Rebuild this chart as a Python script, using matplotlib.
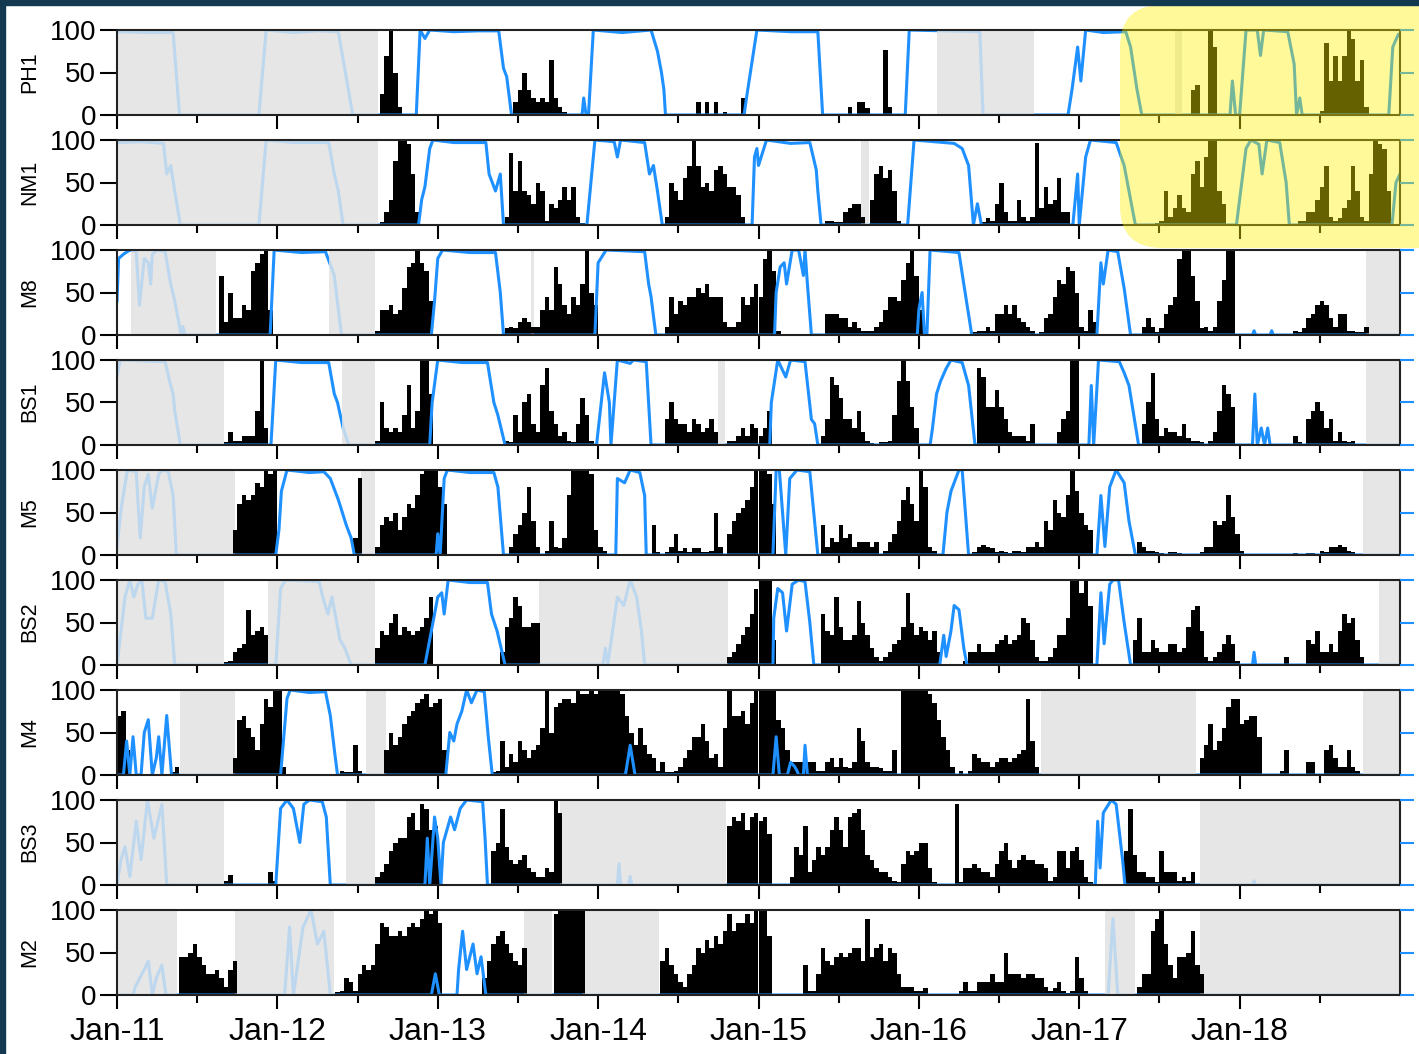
import numpy as np
import matplotlib
matplotlib.use('Agg')
import matplotlib.pyplot as plt
from matplotlib.patches import Rectangle, FancyBboxPatch
from matplotlib.path import Path

plt.rcParams['font.family'] = ['Liberation Sans', 'DejaVu Sans']

SITES = ['PH1', 'NM1', 'M8', 'BS1', 'M5', 'BS2', 'M4', 'BS3', 'M2']
YEARS = [2011, 2012, 2013, 2014, 2015, 2016, 2017, 2018]
YEAR_LABELS = ['Jan-11', 'Jan-12', 'Jan-13', 'Jan-14', 'Jan-15', 'Jan-16', 'Jan-17', 'Jan-18']
BINS_PER_YEAR = 36   # detection percentage in ~10-day bins

# gaps with no recorder data (decimal years)
PH1_GAPS = [(2011.0, 2012.63), (2016.11, 2016.72), (2017.60, 2017.64)]
NM1_GAPS = [(2011.0, 2012.626), (2015.64, 2015.69)]
M8_GAPS = [(2011.085, 2011.62), (2012.32, 2012.61), (2013.58, 2013.60), (2018.79, 2019.0)]
BS1_GAPS = [(2011.0, 2011.67), (2012.40, 2012.61), (2014.75, 2014.79), (2018.79, 2019.0)]
M5_GAPS = [(2011.0, 2011.735), (2012.52, 2012.61), (2018.77, 2019.0)]
BS2_GAPS = [(2011.0, 2011.67), (2011.94, 2012.61), (2013.63, 2014.81), (2018.87, 2019.0)]
M4_GAPS = [(2011.39, 2011.735), (2012.55, 2012.68), (2016.76, 2017.73), (2018.77, 2019.0)]
BS3_GAPS = [(2011.0, 2011.67), (2012.43, 2012.61), (2013.76, 2014.80), (2017.75, 2019.0)]
M2_GAPS = [(2011.0, 2011.375), (2011.735, 2012.355), (2013.54, 2013.71), (2013.90, 2014.38),
           (2017.16, 2017.35), (2017.75, 2019.0)]

# sea ice concentration (%), (decimal year, value)
PH1_ICE = [(2011.0, 98), (2011.2, 97), (2011.35, 97), (2011.39, 0), (2011.885, 0), (2011.93, 100),
           (2012.1, 97), (2012.25, 99), (2012.38, 98), (2012.47, 0), (2012.866, 0), (2012.89, 100),
           (2012.92, 90), (2012.95, 100), (2013.1, 98), (2013.25, 99), (2013.38, 99), (2013.41, 55),
           (2013.43, 45), (2013.46, 0), (2013.90, 0), (2013.91, 20), (2013.925, 0), (2013.94, 0),
           (2013.97, 100), (2014.15, 97), (2014.33, 100), (2014.37, 75), (2014.395, 50), (2014.41, 30),
           (2014.42, 0), (2014.91, 0), (2014.925, 20), (2014.99, 100), (2015.2, 98), (2015.37, 98),
           (2015.40, 0), (2015.915, 0), (2015.94, 100), (2016.38, 98), (2016.40, 0), (2016.93, 0),
           (2016.955, 30), (2016.99, 80), (2017.01, 40), (2017.04, 100), (2017.15, 97), (2017.29, 98),
           (2017.32, 80), (2017.36, 30), (2017.39, 0), (2017.94, 0), (2017.955, 40), (2017.975, 0),
           (2018.0, 0), (2018.04, 100), (2018.11, 100), (2018.13, 70), (2018.15, 100), (2018.30, 98),
           (2018.34, 60), (2018.355, 0), (2018.375, 20), (2018.39, 0), (2018.93, 0), (2018.955, 80),
           (2018.99, 95), (2019.0, 95)]
NM1_ICE = [(2011.0, 97), (2011.15, 98), (2011.29, 96), (2011.31, 60), (2011.335, 70), (2011.36, 40),
           (2011.395, 0), (2011.885, 0), (2011.93, 100), (2012.1, 97), (2012.32, 97), (2012.355, 60),
           (2012.38, 40), (2012.41, 0), (2012.88, 0), (2012.9, 30), (2012.92, 45), (2012.95, 90),
           (2012.97, 100), (2013.1, 97), (2013.30, 97), (2013.32, 60), (2013.36, 40), (2013.39, 60),
           (2013.41, 0), (2013.93, 0), (2013.95, 40), (2013.98, 100), (2014.1, 98), (2014.12, 80),
           (2014.14, 100), (2014.29, 97), (2014.32, 60), (2014.345, 70), (2014.37, 40), (2014.40, 0),
           (2014.96, 0), (2014.975, 80), (2014.99, 90), (2015.0, 70), (2015.05, 100), (2015.2, 96),
           (2015.32, 97), (2015.36, 65), (2015.37, 40), (2015.39, 0), (2015.93, 0), (2015.97, 100),
           (2016.22, 96), (2016.27, 90), (2016.31, 70), (2016.34, 0), (2016.365, 25), (2016.39, 0),
           (2016.96, 0), (2016.99, 60), (2017.0, 0), (2017.04, 80), (2017.07, 100), (2017.23, 97),
           (2017.28, 70), (2017.31, 40), (2017.35, 0), (2017.98, 0), (2018.04, 90), (2018.07, 100),
           (2018.12, 95), (2018.14, 60), (2018.17, 100), (2018.25, 97), (2018.29, 50), (2018.31, 0),
           (2018.95, 0), (2018.975, 50), (2019.0, 60)]
M8_ICE = [(2011.0, 40), (2011.01, 90), (2011.04, 95), (2011.08, 100), (2011.12, 98), (2011.14, 35),
          (2011.17, 90), (2011.195, 85), (2011.21, 60), (2011.22, 95), (2011.25, 100), (2011.30, 98),
          (2011.335, 60), (2011.36, 40), (2011.385, 15), (2011.40, 0), (2011.41, 10), (2011.425, 0),
          (2011.955, 0), (2011.98, 100), (2012.15, 97), (2012.30, 98), (2012.355, 70), (2012.38, 30),
          (2012.40, 0), (2012.96, 0), (2012.98, 40), (2013.0, 90), (2013.03, 100), (2013.2, 97),
          (2013.36, 97), (2013.39, 50), (2013.41, 0), (2013.98, 0), (2014.0, 85), (2014.05, 100),
          (2014.29, 98), (2014.315, 60), (2014.33, 45), (2014.36, 0), (2015.10, 0), (2015.11, 50),
          (2015.135, 80), (2015.16, 85), (2015.175, 60), (2015.21, 100), (2015.25, 100), (2015.28, 70),
          (2015.29, 100), (2015.305, 60), (2015.33, 0), (2015.99, 0), (2016.0, 30), (2016.02, 50),
          (2016.035, 0), (2016.05, 0), (2016.07, 100), (2016.25, 97), (2016.28, 60), (2016.33, 0),
          (2017.11, 0), (2017.135, 85), (2017.15, 60), (2017.18, 100), (2017.24, 98), (2017.28, 55),
          (2017.32, 0), (2018.08, 0), (2018.09, 5), (2018.10, 0), (2018.19, 0), (2018.20, 5),
          (2018.21, 0), (2019.0, 0)]
BS1_ICE = [(2011.0, 80), (2011.02, 100), (2011.30, 98), (2011.335, 70), (2011.35, 60), (2011.36, 40),
           (2011.395, 0), (2011.96, 0), (2011.99, 100), (2012.15, 97), (2012.32, 97), (2012.355, 60),
           (2012.375, 50), (2012.41, 20), (2012.445, 0), (2012.95, 0), (2012.965, 50), (2013.0, 100),
           (2013.15, 97), (2013.31, 97), (2013.35, 50), (2013.375, 35), (2013.42, 0), (2013.99, 0),
           (2014.04, 85), (2014.07, 50), (2014.08, 0), (2014.12, 100), (2014.2, 96), (2014.22, 100),
           (2014.30, 98), (2014.33, 0), (2015.07, 0), (2015.08, 50), (2015.12, 100), (2015.17, 80),
           (2015.2, 100), (2015.29, 98), (2015.33, 30), (2015.35, 25), (2015.37, 0), (2016.07, 0),
           (2016.085, 20), (2016.11, 60), (2016.135, 75), (2016.17, 90), (2016.2, 100), (2016.27, 97),
           (2016.31, 70), (2016.35, 0), (2017.06, 0), (2017.075, 70), (2017.09, 0), (2017.12, 100),
           (2017.25, 98), (2017.28, 85), (2017.31, 70), (2017.37, 0), (2018.08, 0), (2018.095, 60),
           (2018.11, 0), (2018.135, 20), (2018.155, 0), (2018.175, 20), (2018.19, 0), (2019.0, 0)]
M5_ICE = [(2011.0, 10), (2011.03, 60), (2011.065, 100), (2011.12, 98), (2011.13, 65), (2011.145, 20),
          (2011.17, 80), (2011.195, 95), (2011.22, 55), (2011.235, 70), (2011.26, 95), (2011.285, 100),
          (2011.32, 98), (2011.35, 70), (2011.37, 0), (2011.99, 0), (2012.01, 30), (2012.025, 75),
          (2012.06, 100), (2012.2, 97), (2012.29, 98), (2012.33, 90), (2012.38, 65), (2012.43, 35),
          (2012.46, 20), (2012.48, 0), (2012.99, 0), (2013.0, 25), (2013.015, 0), (2013.04, 90),
          (2013.06, 100), (2013.2, 97), (2013.35, 97), (2013.375, 80), (2013.41, 0), (2014.11, 0),
          (2014.12, 90), (2014.165, 85), (2014.2, 100), (2014.26, 97), (2014.29, 70), (2014.30, 0),
          (2015.09, 0), (2015.11, 100), (2015.13, 100), (2015.17, 0), (2015.195, 90), (2015.24, 100),
          (2015.32, 98), (2015.37, 0), (2016.15, 0), (2016.175, 50), (2016.2, 75), (2016.25, 100),
          (2016.27, 100), (2016.31, 0), (2017.11, 0), (2017.135, 70), (2017.16, 10), (2017.19, 80),
          (2017.21, 90), (2017.23, 100), (2017.28, 85), (2017.31, 40), (2017.35, 0), (2019.0, 0)]
BS2_ICE = [(2011.0, 0), (2011.025, 40), (2011.05, 80), (2011.08, 100), (2011.105, 80), (2011.13, 95),
           (2011.155, 100), (2011.18, 55), (2011.22, 55), (2011.26, 100), (2011.30, 98), (2011.335, 60),
           (2011.36, 0), (2011.99, 0), (2012.02, 90), (2012.05, 100), (2012.26, 98), (2012.29, 75),
           (2012.315, 60), (2012.34, 80), (2012.37, 50), (2012.39, 30), (2012.42, 20), (2012.46, 0),
           (2012.92, 0), (2012.935, 15), (2012.96, 40), (2013.0, 80), (2013.025, 85), (2013.04, 60),
           (2013.065, 100), (2013.2, 97), (2013.31, 97), (2013.335, 60), (2013.37, 40), (2013.42, 0),
           (2014.03, 0), (2014.045, 20), (2014.06, 0), (2014.12, 80), (2014.16, 70), (2014.2, 100),
           (2014.24, 80), (2014.27, 40), (2014.29, 0), (2015.09, 0), (2015.095, 55), (2015.12, 90),
           (2015.15, 85), (2015.175, 40), (2015.21, 95), (2015.25, 100), (2015.29, 98), (2015.32, 50),
           (2015.345, 0), (2016.13, 0), (2016.155, 35), (2016.17, 10), (2016.2, 40), (2016.22, 70),
           (2016.25, 65), (2016.28, 20), (2016.30, 0), (2017.11, 0), (2017.135, 85), (2017.155, 25),
           (2017.19, 95), (2017.21, 100), (2017.245, 100), (2017.28, 50), (2017.32, 0), (2018.08, 0),
           (2018.09, 15), (2018.10, 0), (2019.0, 0)]
M4_ICE = [(2011.0, 0), (2011.04, 0), (2011.06, 40), (2011.08, 0), (2011.1, 45), (2011.12, 0),
          (2011.15, 0), (2011.17, 50), (2011.195, 65), (2011.22, 0), (2011.245, 20), (2011.26, 45),
          (2011.28, 0), (2011.31, 70), (2011.34, 0), (2012.02, 0), (2012.06, 90), (2012.08, 100),
          (2012.2, 97), (2012.30, 98), (2012.33, 70), (2012.355, 30), (2012.375, 0), (2013.05, 0),
          (2013.075, 50), (2013.10, 40), (2013.12, 60), (2013.15, 75), (2013.18, 100), (2013.21, 85),
          (2013.245, 100), (2013.29, 98), (2013.315, 45), (2013.34, 0), (2014.17, 0), (2014.20, 35),
          (2014.23, 0), (2015.09, 0), (2015.11, 45), (2015.13, 0), (2015.18, 0), (2015.20, 15),
          (2015.225, 10), (2015.24, 5), (2015.25, 0), (2015.28, 0), (2015.29, 35), (2015.305, 0),
          (2019.0, 0)]
BS3_ICE = [(2011.0, 0), (2011.025, 30), (2011.05, 45), (2011.08, 10), (2011.12, 75), (2011.15, 30),
           (2011.19, 100), (2011.23, 55), (2011.28, 95), (2011.31, 0), (2011.99, 0), (2012.02, 90),
           (2012.06, 100), (2012.1, 90), (2012.14, 50), (2012.165, 95), (2012.2, 100), (2012.28, 98),
           (2012.305, 80), (2012.33, 0), (2012.92, 0), (2012.935, 55), (2012.95, 0), (2012.98, 80),
           (2013.0, 55), (2013.02, 0), (2013.035, 50), (2013.08, 80), (2013.105, 65), (2013.14, 90),
           (2013.18, 100), (2013.28, 98), (2013.295, 55), (2013.31, 0), (2014.12, 0), (2014.13, 25),
           (2014.14, 0), (2014.19, 0), (2014.2, 10), (2014.21, 0), (2017.10, 0), (2017.115, 75),
           (2017.13, 20), (2017.15, 85), (2017.20, 100), (2017.23, 95), (2017.27, 30), (2017.285, 0),
           (2018.08, 0), (2018.09, 5), (2018.10, 0), (2019.0, 0)]
M2_ICE = [(2011.0, 0), (2011.10, 0), (2011.115, 10), (2011.17, 30), (2011.195, 40), (2011.22, 0),
          (2011.245, 20), (2011.28, 35), (2011.305, 0), (2012.045, 0), (2012.076, 80), (2012.10, 0),
          (2012.16, 80), (2012.21, 100), (2012.25, 60), (2012.29, 75), (2012.33, 0), (2012.96, 0),
          (2012.985, 25), (2013.01, 0), (2013.12, 0), (2013.13, 30), (2013.155, 75), (2013.18, 30),
          (2013.22, 60), (2013.245, 25), (2013.27, 45), (2013.30, 0), (2017.18, 0), (2017.21, 90),
          (2017.24, 0), (2019.0, 0)]

# detection runs: (year, first 10-day bin, percentages)
PH1_BARS = [(2012, 23, [25, 70, 100, 50, 10]),
            (2013, 17, [15, 30, 50, 30, 20, 15, 20, 15, 65, 20, 10, 4]),
            (2014, 22, [15, 0, 15, 0, 15, 0, 3, 0, 0, 0, 20]),
            (2015, 20, [10, 0, 15, 15, 8, 0, 0, 0, 76, 10]),
            (2017, 25, [30, 35, 0, 0, 100, 80]),
            (2018, 18, [5, 85, 40, 70, 40, 70, 100, 90, 40, 65, 10])]
NM1_BARS = [(2012, 23, [3, 15, 30, 75, 100, 100, 95, 60, 15]),
            (2013, 15, [10, 85, 40, 75, 40, 35, 25, 50, 40, 5, 25, 20, 30, 45, 30, 45, 10, 2]),
            (2014, 15, [10, 50, 40, 30, 55, 70, 100, 70, 45, 50, 40, 65, 70, 60, 45, 45, 35, 10]),
            (2015, 15, [5, 5, 3, 3, 15, 20, 25, 25, 10, 0, 30, 60, 70, 55, 65, 40, 5]),
            (2016, 14, [3, 8, 5, 25, 50, 15, 5, 5, 30, 10, 5, 10, 97, 20, 45, 25, 30, 55, 15, 15]),
            (2017, 17, [2, 5, 40, 10, 20, 35, 20, 15, 60, 75, 45, 80, 100, 100, 40, 25]),
            (2018, 13, [5, 5, 15, 15, 30, 45, 70, 10, 5, 8, 20, 30, 70, 40, 10, 5, 60, 100, 95, 90, 40])]
M8_BARS = [(2011, 23, [70, 15, 50, 20, 20, 35, 30, 75, 85, 95, 100, 30]),
           (2012, 22, [5, 30, 30, 35, 25, 30, 55, 80, 85, 100, 85, 75, 40]),
           (2013, 15, [8, 10, 8, 15, 20, 15, 10, 10, 30, 45, 30, 80, 60, 35, 25, 45, 35, 60, 100, 50, 35]),
           (2014, 15, [10, 45, 25, 40, 35, 45, 45, 55, 50, 60, 45, 45, 45, 15, 10, 10, 15, 45, 35, 45, 60]),
           (2015, 0, [45, 90, 100, 75, 5]),
           (2015, 15, [25, 25, 25, 20, 20, 10, 15, 8, 5, 5, 5, 10, 15, 30, 45, 45, 40, 65, 85, 100, 70]),
           (2016, 0, [30]),
           (2016, 12, [3, 5, 5, 10, 5, 25, 25, 35, 25, 35, 20, 15, 10, 5, 0, 3, 20, 25, 45, 65, 60, 80, 75, 50]),
           (2017, 0, [10, 5, 30, 15]),
           (2017, 14, [10, 20, 10, 3, 8, 25, 35, 45, 90, 100, 100, 70, 40, 8, 10, 5, 10, 40, 65, 100, 100]),
           (2018, 12, [5, 3, 8, 20, 25, 35, 40, 35, 20, 10, 25, 25, 5, 5, 3, 3, 10])]
BS1_BARS = [(2011, 24, [3, 15, 5, 5, 10, 10, 10, 40, 100, 20]),
            (2012, 22, [5, 50, 20, 15, 20, 15, 35, 70, 20, 40, 100, 100, 60]),
            (2013, 15, [5, 3, 35, 15, 50, 60, 25, 15, 70, 90, 40, 25, 10, 15, 5, 3, 25, 55, 35, 5]),
            (2014, 15, [30, 50, 30, 25, 25, 15, 30, 25, 15, 20, 30, 15, 0, 0, 5, 5, 10, 20, 10, 25, 20]),
            (2015, 0, [10, 20, 40]),
            (2015, 14, [10, 30, 80, 70, 55, 30, 30, 20, 40, 15, 5, 2]),
            (2015, 27, [3, 3, 5, 35, 75, 100, 75, 45, 20]),
            (2016, 13, [90, 80, 45, 45, 65, 45, 30, 15, 10, 10, 10, 5, 25]),
            (2016, 31, [15, 30, 40, 100, 100]),
            (2017, 14, [25, 50, 85, 30, 10, 20, 15, 15, 10, 25, 8, 5, 5, 3]),
            (2017, 29, [5, 15, 40, 70, 60, 45]),
            (2018, 12, [10, 3, 0, 30, 40, 50, 40, 20, 30, 5, 15, 5, 3, 5])]
M5_BARS = [(2011, 26, [30, 60, 70, 65, 70, 85, 80, 100, 95, 100]),
           (2012, 17, [20, 90]),
           (2012, 22, [10, 35, 45, 40, 50, 30, 45, 60, 55, 70, 95, 100, 100, 100]),
           (2013, 0, [80, 60]),
           (2013, 16, [10, 25, 35, 50, 80, 40, 10, 0, 5, 40, 10, 8, 20, 70, 100, 100, 100, 100, 95, 30]),
           (2014, 0, [10, 5]),
           (2014, 12, [35, 3, 0, 3, 10, 25, 5, 8, 3, 8, 8, 3, 3, 5, 50, 10, 0, 25, 40, 50, 55, 65, 80, 100]),
           (2015, 0, [100, 100, 95, 60]),
           (2015, 14, [35, 10, 20, 15, 35, 20, 25, 10, 15, 15, 15, 10, 15, 0, 5, 15, 25, 40, 65, 80, 60, 40]),
           (2016, 0, [100, 80, 10, 5]),
           (2016, 12, [3, 10, 12, 10, 8, 3, 5, 3, 2, 5, 5, 3, 10, 10, 15, 10, 40, 30, 65, 50, 45, 70, 100, 75]),
           (2017, 0, [50, 35, 30]),
           (2017, 13, [15, 10, 5, 5, 3, 2, 0, 3, 3, 2]),
           (2017, 27, [3, 10, 10, 40, 35, 40, 70, 45, 25]),
           (2018, 0, [5]),
           (2018, 12, [2, 0, 0, 2, 2, 0, 5, 3, 10, 10, 12, 10, 5, 3])]
BS2_BARS = [(2011, 24, [3, 5, 15, 20, 25, 65, 35, 40, 45, 35]),
            (2012, 22, [20, 40, 35, 50, 60, 35, 45, 40, 35, 40, 45, 55, 80]),
            (2013, 14, [15, 45, 55, 80, 70, 45, 45, 50, 50]),
            (2014, 29, [10, 15, 25, 35, 45, 60, 90]),
            (2015, 0, [100, 100, 100, 30]),
            (2015, 14, [60, 40, 35, 80, 45, 30, 30, 35, 75, 50, 35, 20, 10]),
            (2015, 27, [5, 10, 15, 25, 30, 45, 85, 50, 35]),
            (2016, 0, [45, 40, 30, 40, 15]),
            (2016, 10, [5, 15, 15, 25, 15, 15, 15, 25, 30, 35, 25, 30, 35, 55, 50, 30, 10, 5, 5, 10, 20, 35,
                        35, 55, 100, 100]),
            (2017, 0, [85, 100, 70]),
            (2017, 12, [30, 55, 15, 15, 30, 20, 15, 15, 25, 25, 15, 20, 45, 65, 70, 40, 10, 5, 10, 15, 25, 35,
                        25, 5]),
            (2018, 10, [10]),
            (2018, 15, [30, 25, 40, 15, 15, 25, 15, 40, 60, 50, 55, 30, 10])]
M4_BARS = [(2011, 0, [70, 75, 30]),
           (2011, 12, [3, 10]),
           (2011, 26, [20, 65, 70, 55, 45, 30, 60, 90, 80, 100]),
           (2012, 0, [100, 10]),
           (2012, 14, [5, 3, 3, 35, 5]),
           (2012, 24, [30, 50, 35, 45, 60, 70, 75, 85, 90, 95, 80, 85]),
           (2013, 0, [90, 30]),
           (2013, 12, [3, 5, 40, 10, 25, 15, 40, 30, 20, 30, 35, 55, 100, 50, 80, 85, 90, 90, 85, 100, 95,
                       95, 100, 95]),
           (2014, 0, [100, 100, 100, 100, 100, 95, 70, 50, 35, 55, 35, 25, 20, 5, 15, 3, 3, 5, 10, 20, 30,
                      45, 45, 60, 40, 20, 25, 10, 55, 100, 70, 70, 75, 60, 85, 100]),
           (2015, 0, [100, 100, 100, 100, 65, 55, 30, 15, 15, 15, 15, 15, 15, 5, 5, 15, 20, 10, 20, 10, 8,
                      15, 55, 40, 15, 10, 10, 8, 5, 5, 30, 0, 100, 100, 100, 100]),
           (2016, 0, [100, 100, 95, 85, 65, 45, 30, 10, 0, 5, 0, 5, 25, 20, 15, 15, 10, 15, 20, 20, 15, 20,
                      25, 30, 90, 40, 10]),
           (2017, 27, [20, 35, 60, 30, 40, 55, 80, 90, 90]),
           (2018, 0, [60, 65, 70, 70, 45]),
           (2018, 9, [5, 30]),
           (2018, 15, [15, 15, 0, 0, 30, 35, 20, 10, 10, 30, 10, 5])]
BS3_BARS = [(2011, 24, [5, 12]),
            (2011, 34, [15, 5]),
            (2012, 22, [10, 15, 25, 40, 50, 55, 55, 80, 85, 65, 95, 90, 65, 70]),
            (2013, 0, [30]),
            (2013, 12, [40, 50, 90, 45, 30, 25, 30, 35, 20, 15, 10, 10, 20, 15, 100, 85]),
            (2014, 29, [70, 80, 75, 85, 65, 80, 85]),
            (2015, 0, [75, 80, 60]),
            (2015, 7, [10, 45, 35, 70, 15, 30, 45, 35, 45, 65, 80, 65, 45, 80, 85, 90, 65, 35, 30, 20, 15,
                       15, 10, 5, 3, 25, 40, 35, 40]),
            (2016, 0, [50, 50, 20, 3]),
            (2016, 8, [95, 3, 20, 20, 25, 20, 15, 15, 10, 25, 40, 50, 30, 20, 30, 35, 30, 30, 25, 25, 20, 5,
                       10, 40, 40, 20, 40, 45]),
            (2017, 0, [30, 10, 3]),
            (2017, 10, [40, 90, 35, 15, 15, 10, 10, 3, 40, 15, 15, 15, 5, 10, 5, 15])]
M2_BARS = [(2011, 14, [45, 45, 50, 60, 45, 35, 25, 25, 30, 20, 10, 30, 40]),
           (2012, 13, [3, 5, 20, 15, 5, 25, 35, 30, 35, 60, 85, 80, 70, 70, 75, 70, 80, 85, 80, 90, 100, 95,
                       100]),
           (2013, 0, [85]),
           (2013, 10, [20, 40, 60, 70, 75, 60, 50, 40, 35, 55]),
           (2013, 26, [95, 100, 100, 100, 100, 100, 100]),
           (2014, 14, [40, 55, 35, 25, 15, 10, 25, 35, 55, 50, 65, 55, 70, 60, 75, 95, 75, 85, 85, 95, 85,
                       100]),
           (2015, 0, [100, 100, 70]),
           (2015, 10, [35, 5, 5, 25, 55, 40, 35, 45, 50, 45, 50, 55, 55, 40, 90, 45, 55, 60, 40, 55, 50, 25,
                       10, 10, 10, 5]),
           (2016, 0, [5, 8]),
           (2016, 9, [5, 15, 5, 5, 15, 15, 15, 25, 15, 15, 50, 25, 25, 25, 20, 25, 25, 20, 20, 10, 5, 8, 15,
                      5, 2, 5, 45]),
           (2017, 0, [20, 5]),
           (2017, 13, [10, 25, 25, 75, 90, 100, 60, 35, 20, 45, 45, 50, 75, 35, 25])]

PANELS = [(PH1_BARS, PH1_ICE, PH1_GAPS), (NM1_BARS, NM1_ICE, NM1_GAPS), (M8_BARS, M8_ICE, M8_GAPS),
          (BS1_BARS, BS1_ICE, BS1_GAPS), (M5_BARS, M5_ICE, M5_GAPS), (BS2_BARS, BS2_ICE, BS2_GAPS),
          (M4_BARS, M4_ICE, M4_GAPS), (BS3_BARS, BS3_ICE, BS3_GAPS), (M2_BARS, M2_ICE, M2_GAPS)]

GAP_COLOR = '#e6e6e6'
ICE_COLOR = '#1e90ff'
ICE_LIGHT = '#bdd7ee'
FRAME = '#12394f'
T0, T1 = 2011.0, 2019.0


def span_path(spans):
    verts, codes = [], []
    for a, b in spans:
        verts += [(a, -10), (b, -10), (b, 110), (a, 110), (a, -10)]
        codes += [Path.MOVETO, Path.LINETO, Path.LINETO, Path.LINETO, Path.CLOSEPOLY]
    return Path(verts, codes)


def open_spans(gaps):
    out, start = [], T0
    for a, b in sorted(gaps):
        if a > start:
            out.append((start, a))
        start = max(start, b)
    if start < T1:
        out.append((start, T1))
    return out


W, H = 1419, 1054
fig = plt.figure(figsize=(W / 100, H / 100), dpi=100)
left, right = 117 / W, 1400 / W

for i, (name, (bars, ice, gaps)) in enumerate(zip(SITES, PANELS)):
    top_px = 30 + 110 * i
    ax = fig.add_axes([left, 1 - (top_px + 85) / H, right - left, 85 / H])

    for a, b in gaps:
        ax.axvspan(a, b, color=GAP_COLOR, lw=0, zorder=0)

    for yr, b0, vals in bars:
        x = yr + (b0 + np.arange(len(vals))) / BINS_PER_YEAR
        ax.bar(x, vals, width=1 / BINS_PER_YEAR, align='edge', color='black', lw=0, zorder=2)

    t = [p[0] for p in ice]
    v = [p[1] for p in ice]
    if gaps:
        ln, = ax.plot(t, v, color=ICE_LIGHT, lw=2.2, zorder=3)
        ln.set_clip_path(span_path(gaps), transform=ax.transData)
    ln, = ax.plot(t, v, color=ICE_COLOR, lw=2.2, zorder=3)
    ln.set_clip_path(span_path(open_spans(gaps)), transform=ax.transData)

    ax.set_xlim(T0, T1)
    ax.set_ylim(0, 100)
    ax.set_yticks([0, 50, 100])
    ax.set_xticks(YEARS)
    ax.set_xticks([y + 0.5 for y in YEARS], minor=True)
    ax.tick_params(axis='y', direction='out', length=12, width=1.5, labelsize=20, pad=3)
    ax.tick_params(axis='x', which='major', direction='out', length=10, width=1.5, pad=6, labelsize=23)
    ax.tick_params(axis='x', which='minor', direction='out', length=6, width=1.5)
    if i == len(SITES) - 1:
        ax.set_xticklabels(YEAR_LABELS)
    else:
        ax.tick_params(axis='x', labelbottom=False)
    for s in ax.spines.values():
        s.set_linewidth(1.5)
        s.set_color('#222222')
        s.set_zorder(5)

    ax2 = ax.twinx()
    ax2.set_ylim(0, 100)
    ax2.set_yticks([0, 50, 100])
    ax2.tick_params(axis='y', direction='out', length=10, width=1.5, colors=ICE_COLOR, labelright=False)
    for s in ax2.spines.values():
        s.set_visible(False)

    fig.text(30 / W, 1 - (top_px + 42) / H, name, rotation=90, ha='center', va='center', fontsize=15.5)

# dark frame on left and top
fig.patches.append(Rectangle((0, 0), 5 / W, 1, transform=fig.transFigure, color=FRAME, zorder=20))
fig.patches.append(Rectangle((0, 1 - 5 / H), 1, 5 / H, transform=fig.transFigure, color=FRAME, zorder=20))

# yellow highlight over PH1 / NM1 recent years
hl = FancyBboxPatch((11.2, (H - 248) / 100), 3.6, 2.43, boxstyle='round,pad=0,rounding_size=0.42',
                    transform=fig.dpi_scale_trans, facecolor='#fff200', edgecolor='none', alpha=0.4,
                    zorder=15)
fig.patches.append(hl)

fig.savefig('out.png', dpi=100)
